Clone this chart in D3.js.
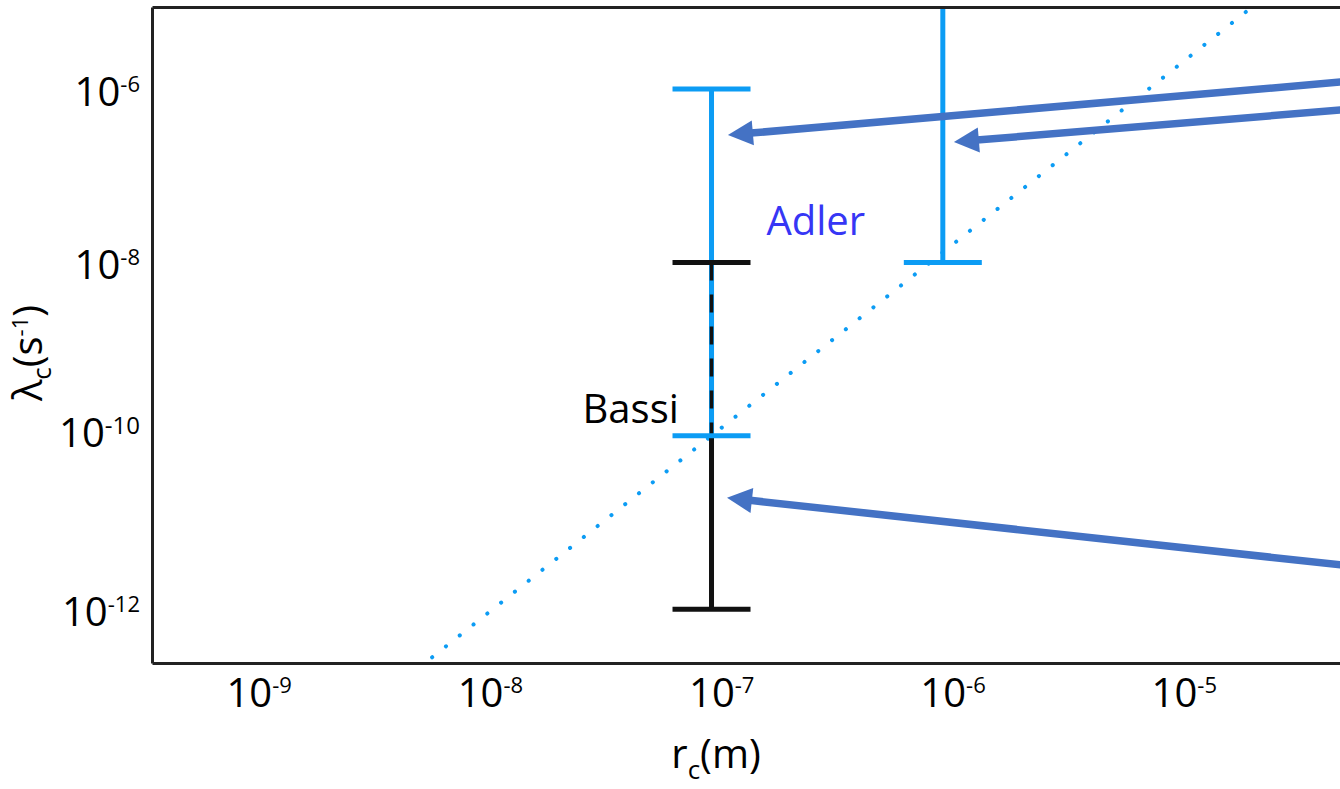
<!DOCTYPE html>
<html>
<head>
<meta charset="utf-8">
<script src="https://cdn.jsdelivr.net/npm/d3@7/dist/d3.min.js"></script>
<style>
  html, body { margin: 0; padding: 0; background: #fff; }
  svg { display: block; }
  text { font-family: "Open Sans", "Noto Sans", sans-serif; }
</style>
</head>
<body>
<script>
// ---------- data ----------
const xDomainLog = [-9.419, -4];          // log10 r_c (m)
const yDomainLog = [-12.62, -5.054];      // log10 lambda_c (s^-1)
const xTickExp = [-9, -8, -7, -6, -5];
const yTickExp = [-6, -8, -10, -12];

// error bars
const adlerR    = [1e-7, 1e-6];
const adlerLow  = [1e-10, 1e-8];
const adlerHigh = [1e-6, 1e-4];
const adlerCapHigh = [true, false];
const bassiR    = [1e-7];
const bassiLow  = [1e-12];
const bassiHigh = [1e-8];

// dotted reference line (endpoints)
const dotR = [Math.pow(10, -8.239), Math.pow(10, -4.663)];
const dotL = [Math.pow(10, -12.62), Math.pow(10, -5.054)];

// annotation arrows (tail -> tip), in data space
const arrowTailR = [Math.pow(10, -4.196), Math.pow(10, -4.196), Math.pow(10, -4.196)];
const arrowTailL = [Math.pow(10, -5.90), Math.pow(10, -6.223), Math.pow(10, -11.513)];
const arrowTipR  = [Math.pow(10, -6.929), Math.pow(10, -5.952), Math.pow(10, -6.933)];
const arrowTipL  = [Math.pow(10, -6.531), Math.pow(10, -6.611), Math.pow(10, -10.715)];

// ---------- chart ----------
(function() {
const W = 1340, H = 789;
const mLeft = 152, mTop = 7, mBottom = 663;
const pxPerDecadeX = 231.3;
const mRight = mLeft + (xDomainLog[1] - xDomainLog[0]) * pxPerDecadeX;

const svg = d3.select("body").append("svg").attr("width", W).attr("height", H);

const x = d3.scaleLog().domain(xDomainLog.map(e => Math.pow(10, e))).range([mLeft, mRight]);
const y = d3.scaleLog().domain(yDomainLog.map(e => Math.pow(10, e))).range([mBottom, mTop]);

const blue = "#0c9cf4";
const black = "#111";
const arrowBlue = "#4472c4";
const axisColor = "#222";

svg.append("defs").append("clipPath").attr("id", "plotclip")
  .append("rect").attr("x", mLeft).attr("y", mTop).attr("width", mRight - mLeft).attr("height", mBottom - mTop);

const plot = svg.append("g").attr("clip-path", "url(#plotclip)");

// dotted line (drawn from the top end so a dot sits at the top border)
plot.append("path")
  .attr("d", d3.line().x(d => x(d[0])).y(d => y(d[1]))(dotR.map((r, i) => [r, dotL[i]]).reverse()))
  .attr("fill", "none").attr("stroke", blue).attr("stroke-width", 4)
  .attr("stroke-linecap", "round").attr("stroke-dasharray", "0.1 17.5").attr("stroke-dashoffset", -8);

const capHalf = 39;
// Bassi bar (black solid)
bassiR.forEach((r, i) => {
  plot.append("line").attr("x1", x(r)).attr("x2", x(r)).attr("y1", y(bassiLow[i])).attr("y2", y(bassiHigh[i]))
    .attr("stroke", black).attr("stroke-width", 5);
});
// Adler bars (blue)
adlerR.forEach((r, i) => {
  plot.append("line").attr("x1", x(r)).attr("x2", x(r)).attr("y1", y(adlerLow[i])).attr("y2", y(adlerHigh[i]))
    .attr("stroke", blue).attr("stroke-width", 5);
});
// Bassi dashed overlay where it overlaps Adler
bassiR.forEach((r, i) => {
  const j = adlerR.indexOf(r);
  if (j < 0) return;
  const lo = Math.max(bassiLow[i], adlerLow[j]);
  const hi = Math.min(bassiHigh[i], adlerHigh[j]);
  plot.append("line").attr("x1", x(r)).attr("x2", x(r)).attr("y1", y(hi)).attr("y2", y(lo))
    .attr("stroke", black).attr("stroke-width", 3.5).attr("stroke-dasharray", "18 14");
});
// Bassi caps
bassiR.forEach((r, i) => {
  [bassiLow[i], bassiHigh[i]].forEach(v => {
    plot.append("line").attr("x1", x(r) - capHalf).attr("x2", x(r) + capHalf)
      .attr("y1", y(v)).attr("y2", y(v)).attr("stroke", black).attr("stroke-width", 5);
  });
});
// Adler caps
adlerR.forEach((r, i) => {
  const vals = adlerCapHigh[i] ? [adlerLow[i], adlerHigh[i]] : [adlerLow[i]];
  vals.forEach(v => {
    plot.append("line").attr("x1", x(r) - capHalf).attr("x2", x(r) + capHalf)
      .attr("y1", y(v)).attr("y2", y(v)).attr("stroke", blue).attr("stroke-width", 5);
  });
});

// labels
svg.append("text").attr("x", x(1e-7) + 55).attr("y", y(1e-8) - 27)
  .attr("font-size", 40).attr("fill", "#3636f5").text("Adler");
svg.append("text").attr("x", x(1e-7) - 129).attr("y", y(1e-10) - 13)
  .attr("font-size", 40).attr("fill", "#000").text("Bassi");

// axes
const xAxis = svg.append("g").attr("transform", `translate(0,${mBottom})`)
  .call(d3.axisBottom(x).tickValues(xTickExp.map(e => Math.pow(10, e))).tickSize(0).tickSizeOuter(0));
const yAxis = svg.append("g").attr("transform", `translate(${mLeft},0)`)
  .call(d3.axisLeft(y).tickValues(yTickExp.map(e => Math.pow(10, e))).tickSize(0).tickSizeOuter(0));
const topAxis = svg.append("g").attr("transform", `translate(0,${mTop})`)
  .call(d3.axisTop(x).tickValues([]).tickSize(0).tickSizeOuter(0));

[xAxis, yAxis, topAxis].forEach(g => g.select(".domain").attr("stroke", axisColor).attr("stroke-width", 3));

xAxis.selectAll(".tick text").each(function(d) {
  const e = Math.round(Math.log10(d));
  const t = d3.select(this);
  t.text(null).attr("font-family", '"Open Sans", sans-serif').attr("font-size", 40).attr("fill", "#000")
    .attr("text-anchor", "start").attr("x", -23).attr("y", 44).attr("dy", 0);
  t.append("tspan").text("10");
  t.append("tspan").attr("dy", -14).attr("font-size", 22).text(e);
});

yAxis.selectAll(".tick text").each(function(d) {
  const e = Math.round(Math.log10(d));
  const t = d3.select(this);
  const serif = (e === -10);
  t.text(null).attr("font-family", serif ? '"Liberation Serif", serif' : '"Open Sans", sans-serif')
    .attr("font-size", serif ? 40 : 40).attr("fill", "#000")
    .attr("text-anchor", "end").attr("x", -12).attr("y", serif ? 11 : 16).attr("dy", 0);
  t.append("tspan").text("10");
  t.append("tspan").attr("dy", serif ? -13 : -14).attr("font-size", serif ? 24 : 22).text(e);
});

// axis titles
const xt = svg.append("text").attr("x", 716).attr("y", 768).attr("text-anchor", "middle")
  .attr("font-size", 40).attr("fill", "#000");
xt.append("tspan").text("r");
xt.append("tspan").attr("dy", 11).attr("font-size", 26).text("c");
xt.append("tspan").attr("dy", -11).text("(m)");

const yt = svg.append("text").attr("transform", "translate(42,353) rotate(-90)").attr("text-anchor", "middle")
  .attr("font-size", 40).attr("fill", "#000");
yt.append("tspan").text("λ");
yt.append("tspan").attr("dy", 9).attr("font-size", 26).text("c");
yt.append("tspan").attr("dy", -9).text("(s");
yt.append("tspan").attr("dy", -14).attr("font-size", 22).text("-1");
yt.append("tspan").attr("dy", 14).text(")");

// arrows
const headL = 25, headW = 12.5;
arrowTipR.forEach((r, i) => {
  const tx = x(r), ty = y(arrowTipL[i]);
  const sx = x(arrowTailR[i]), sy = y(arrowTailL[i]);
  const len = Math.hypot(tx - sx, ty - sy);
  const ux = (tx - sx) / len, uy = (ty - sy) / len;
  const bx = tx - ux * headL, by = ty - uy * headL;
  svg.append("line").attr("x1", sx).attr("y1", sy).attr("x2", bx + ux * 2).attr("y2", by + uy * 2)
    .attr("stroke", arrowBlue).attr("stroke-width", 7.5);
  svg.append("polygon")
    .attr("points", [[tx, ty], [bx - uy * headW, by + ux * headW], [bx + uy * headW, by - ux * headW]].map(p => p.join(",")).join(" "))
    .attr("fill", arrowBlue);
});
})();
</script>
</body>
</html>
